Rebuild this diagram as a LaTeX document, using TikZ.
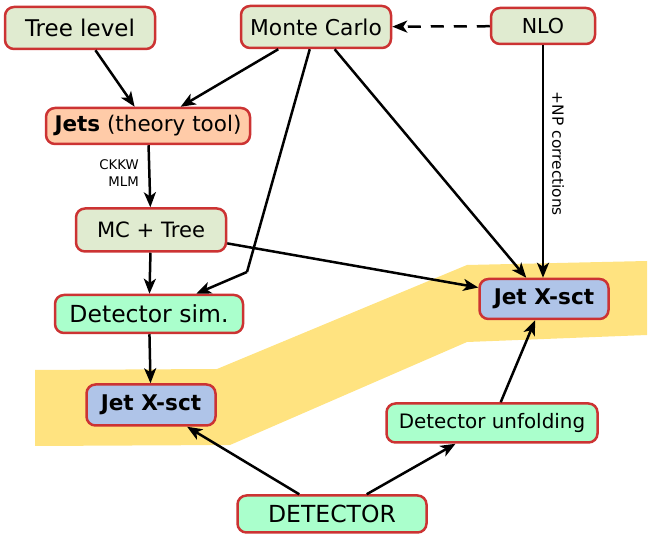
\documentclass[tikz,border=0pt]{standalone}
\usepackage{fontspec}
\setmainfont{DejaVu Sans}
\usetikzlibrary{arrows.meta}
\definecolor{BoxRed}{HTML}{CC3333}
\definecolor{BoxGreen}{HTML}{E0EBD0}
\definecolor{BoxOrange}{HTML}{FFCBA8}
\definecolor{BoxMint}{HTML}{AAFFCC}
\definecolor{BoxBlue}{HTML}{AFC4E8}
\definecolor{BandYellow}{HTML}{FFE380}
\newcommand{\fsz}[1]{\fontsize{#1}{#1}\selectfont}
\begin{document}
\begin{tikzpicture}[x=1pt,y=-1pt,
    box/.style={draw=BoxRed, line width=2.5pt, rounded corners=9pt, inner sep=0pt},
    flow/.style={line width=2.5pt, -{Stealth[length=15pt,width=12pt,inset=4pt]}},
    note/.style={inner sep=0pt}]
\useasboundingbox (0,0) rectangle (649,537);
% yellow band behind the two results
\fill[BandYellow] (35,370) -- (217,369) -- (467,265) -- (647,261)
    -- (647,335) -- (467,342) -- (230,445) -- (35,446) -- cycle;
% boxes
\node[box, fill=BoxGreen, minimum width=150pt, minimum height=42pt, font=\fsz{23}] (tree) at (80,28) {Tree level};
\node[box, fill=BoxGreen, minimum width=150pt, minimum height=42pt, font=\fsz{21.8}] (mc) at (316,27) {Monte Carlo};
\node[box, fill=BoxGreen, minimum width=104pt, minimum height=36pt, font=\fsz{20.6}] (nlo) at (543,26) {NLO};
\node[box, fill=BoxOrange, minimum width=204pt, minimum height=36pt, font=\fsz{21.5}] (jets) at (148,126) {\textbf{Jets} (theory tool)};
\node[box, fill=BoxGreen, minimum width=150pt, minimum height=43pt, font=\fsz{21.1}] (mctree) at (151,230) {MC + Tree};
\node[box, fill=BoxMint, minimum width=188pt, minimum height=38pt, font=\fsz{23.5}] (detsim) at (149,314) {Detector sim.};
\node[box, fill=BoxBlue, minimum width=129pt, minimum height=41pt, font=\fsz{21.6}\bfseries] (xsectL) at (151,405) {Jet X-sct};
\node[box, fill=BoxBlue, minimum width=129pt, minimum height=40pt, font=\fsz{21.6}\bfseries] (xsectR) at (544,299) {Jet X-sct};
\node[box, fill=BoxMint, minimum width=211pt, minimum height=39pt, font=\fsz{19.9}] (unfold) at (492,423) {Detector unfolding};
\node[box, fill=BoxMint, minimum width=189pt, minimum height=37pt, font=\fsz{23.5}] (detector) at (332,514) {DETECTOR};
% labels
\node[note, font=\fsz{13.3}, align=right, anchor=east] (ckkw) at (139,173) {CKKW\\[3pt]MLM};
\node[note, font=\fsz{15.4}, rotate=-90] (npcorr) at (558,154) {+NP corrections};
% connectors
\coordinate (bend) at (247,272);
\draw[flow] (tree) -- (jets);
\draw[flow] (mc) -- (jets);
\draw[line width=2.5pt, line join=round] (mc) -- (bend);
\draw[flow] (bend) -- (detsim);
\draw[flow] (mc) -- (xsectR);
\draw[flow] (nlo.south) -- (nlo.south |- xsectR.north);
\draw[flow, dash pattern=on 13pt off 10pt] (nlo) -- (mc);
\draw[flow] (jets) -- (mctree);
\draw[flow] (mctree) -- (xsectR);
\draw[flow] (mctree) -- (detsim);
\draw[flow] (detsim) -- (xsectL);
\draw[flow] (detector) -- (xsectL);
\draw[flow] (detector) -- (unfold);
\draw[flow] (unfold) -- (xsectR);
\end{tikzpicture}
\end{document}
